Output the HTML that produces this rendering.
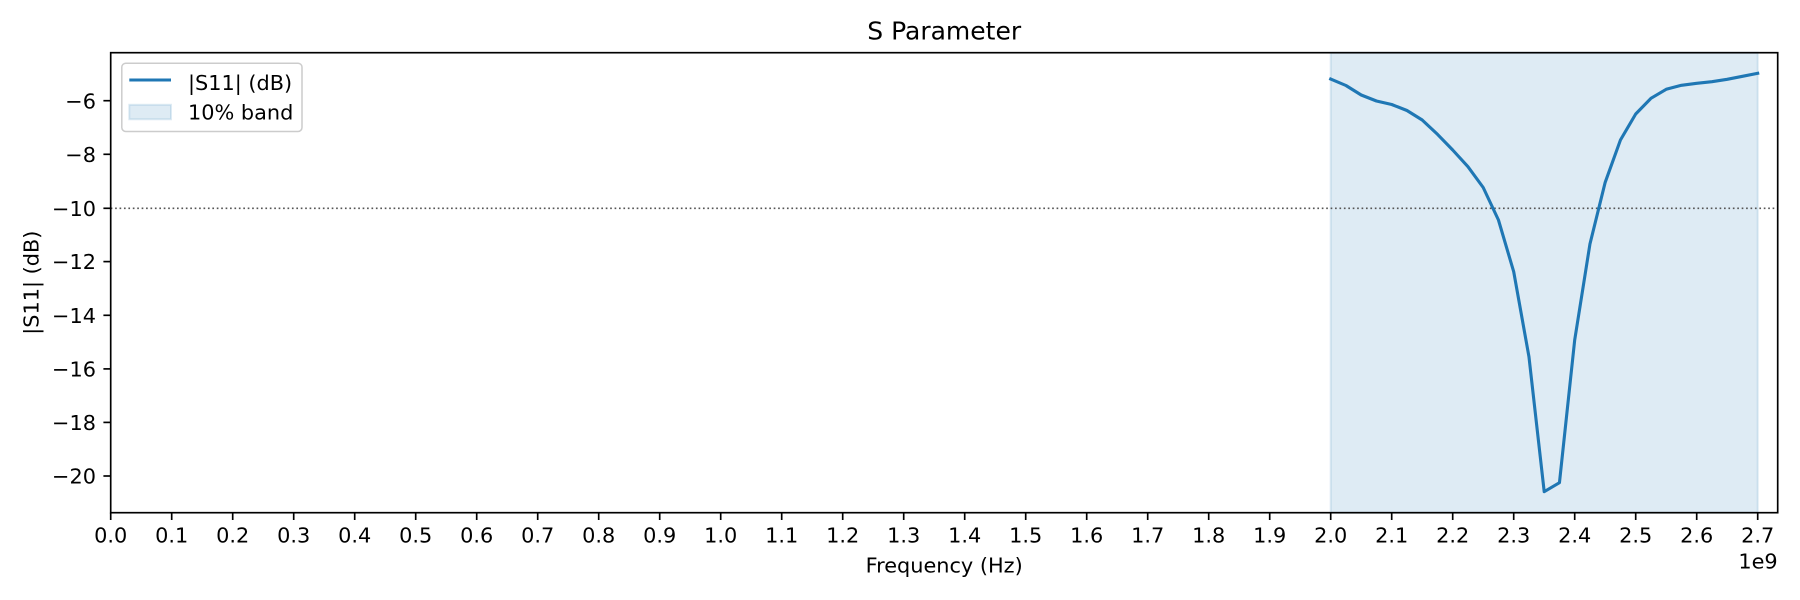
<!DOCTYPE html>
<html>
<head>
<meta charset="utf-8">
<style>
  html, body { margin: 0; padding: 0; background: #ffffff; }
  svg { display: block; }
  text { font-family: "DejaVu Sans", "Liberation Sans", sans-serif; fill: #000; }
</style>
</head>
<body>
<svg width="1800" height="600" viewBox="0 0 1800 600" xmlns="http://www.w3.org/2000/svg">
  <rect x="0" y="0" width="1800" height="600" fill="#ffffff"/>

  <!-- 10% band -->
  <rect x="1330.7" y="52.7" width="427" height="460" fill="#1f77b4" fill-opacity="0.15" stroke="#1f77b4" stroke-opacity="0.15" stroke-width="2"/>

  <!-- -10 dB dotted line -->
  <line x1="110.7" y1="208.3" x2="1777.7" y2="208.3" stroke="#555555" stroke-width="1.67" stroke-dasharray="1.67 2.75"/>

  <!-- S11 curve -->
  <polyline fill="none" stroke="#1f77b4" stroke-width="3.1" stroke-linejoin="round" stroke-linecap="square"
    points="1330.7,79 1345.95,85.5 1361.2,95 1376.45,101 1391.7,104.5 1406.95,110.5 1422.2,120 1437.45,134.3 1452.7,150 1467.95,166.7 1483.2,187.5 1498.45,220 1513.7,271.7 1528.95,356.7 1544.2,491.7 1559.45,482.7 1574.7,340 1589.95,244 1605.2,182.3 1620.45,140 1635.7,114 1650.95,98.3 1666.2,89.3 1681.45,85.3 1696.7,83.3 1711.95,81.7 1727.2,79.3 1742.45,76.3 1757.7,73.3"/>

  <!-- axes frame -->
  <rect x="110.7" y="52.7" width="1667" height="460" fill="none" stroke="#000" stroke-width="1.67"/>

  <!-- x ticks -->
  <g stroke="#000" stroke-width="1.67">
    <line x1="110.7" y1="512.7" x2="110.7" y2="520"/>
    <line x1="171.7" y1="512.7" x2="171.7" y2="520"/>
    <line x1="232.7" y1="512.7" x2="232.7" y2="520"/>
    <line x1="293.7" y1="512.7" x2="293.7" y2="520"/>
    <line x1="354.7" y1="512.7" x2="354.7" y2="520"/>
    <line x1="415.7" y1="512.7" x2="415.7" y2="520"/>
    <line x1="476.7" y1="512.7" x2="476.7" y2="520"/>
    <line x1="537.7" y1="512.7" x2="537.7" y2="520"/>
    <line x1="598.7" y1="512.7" x2="598.7" y2="520"/>
    <line x1="659.7" y1="512.7" x2="659.7" y2="520"/>
    <line x1="720.7" y1="512.7" x2="720.7" y2="520"/>
    <line x1="781.7" y1="512.7" x2="781.7" y2="520"/>
    <line x1="842.7" y1="512.7" x2="842.7" y2="520"/>
    <line x1="903.7" y1="512.7" x2="903.7" y2="520"/>
    <line x1="964.7" y1="512.7" x2="964.7" y2="520"/>
    <line x1="1025.7" y1="512.7" x2="1025.7" y2="520"/>
    <line x1="1086.7" y1="512.7" x2="1086.7" y2="520"/>
    <line x1="1147.7" y1="512.7" x2="1147.7" y2="520"/>
    <line x1="1208.7" y1="512.7" x2="1208.7" y2="520"/>
    <line x1="1269.7" y1="512.7" x2="1269.7" y2="520"/>
    <line x1="1330.7" y1="512.7" x2="1330.7" y2="520"/>
    <line x1="1391.7" y1="512.7" x2="1391.7" y2="520"/>
    <line x1="1452.7" y1="512.7" x2="1452.7" y2="520"/>
    <line x1="1513.7" y1="512.7" x2="1513.7" y2="520"/>
    <line x1="1574.7" y1="512.7" x2="1574.7" y2="520"/>
    <line x1="1635.7" y1="512.7" x2="1635.7" y2="520"/>
    <line x1="1696.7" y1="512.7" x2="1696.7" y2="520"/>
    <line x1="1757.7" y1="512.7" x2="1757.7" y2="520"/>
  </g>
  <g font-size="20.83" text-anchor="middle">
    <text x="110.7" y="542.7">0.0</text>
    <text x="171.7" y="542.7">0.1</text>
    <text x="232.7" y="542.7">0.2</text>
    <text x="293.7" y="542.7">0.3</text>
    <text x="354.7" y="542.7">0.4</text>
    <text x="415.7" y="542.7">0.5</text>
    <text x="476.7" y="542.7">0.6</text>
    <text x="537.7" y="542.7">0.7</text>
    <text x="598.7" y="542.7">0.8</text>
    <text x="659.7" y="542.7">0.9</text>
    <text x="720.7" y="542.7">1.0</text>
    <text x="781.7" y="542.7">1.1</text>
    <text x="842.7" y="542.7">1.2</text>
    <text x="903.7" y="542.7">1.3</text>
    <text x="964.7" y="542.7">1.4</text>
    <text x="1025.7" y="542.7">1.5</text>
    <text x="1086.7" y="542.7">1.6</text>
    <text x="1147.7" y="542.7">1.7</text>
    <text x="1208.7" y="542.7">1.8</text>
    <text x="1269.7" y="542.7">1.9</text>
    <text x="1330.7" y="542.7">2.0</text>
    <text x="1391.7" y="542.7">2.1</text>
    <text x="1452.7" y="542.7">2.2</text>
    <text x="1513.7" y="542.7">2.3</text>
    <text x="1574.7" y="542.7">2.4</text>
    <text x="1635.7" y="542.7">2.5</text>
    <text x="1696.7" y="542.7">2.6</text>
    <text x="1757.7" y="542.7">2.7</text>
  </g>
  <text x="1777.7" y="568.3" font-size="20.83" text-anchor="end">1e9</text>
  <text x="944.2" y="572.3" font-size="20.83" text-anchor="middle">Frequency (Hz)</text>

  <!-- y ticks -->
  <g stroke="#000" stroke-width="1.67">
    <line x1="103.4" y1="100.7" x2="110.7" y2="100.7"/>
    <line x1="103.4" y1="154.3" x2="110.7" y2="154.3"/>
    <line x1="103.4" y1="208.3" x2="110.7" y2="208.3"/>
    <line x1="103.4" y1="261.6" x2="110.7" y2="261.6"/>
    <line x1="103.4" y1="315.3" x2="110.7" y2="315.3"/>
    <line x1="103.4" y1="368.9" x2="110.7" y2="368.9"/>
    <line x1="103.4" y1="422.4" x2="110.7" y2="422.4"/>
    <line x1="103.4" y1="476" x2="110.7" y2="476"/>
  </g>
  <g font-size="20.83" text-anchor="end">
    <text x="96" y="108.3">−6</text>
    <text x="96" y="161.9">−8</text>
    <text x="96" y="215.9">−10</text>
    <text x="96" y="269.2">−12</text>
    <text x="96" y="322.9">−14</text>
    <text x="96" y="376.5">−16</text>
    <text x="96" y="430">−18</text>
    <text x="96" y="483.6">−20</text>
  </g>
  <text transform="translate(38.5,282.7) rotate(-90)" font-size="20.83" text-anchor="middle">|S11| (dB)</text>

  <!-- title -->
  <text x="944.2" y="39.3" font-size="25" text-anchor="middle">S Parameter</text>

  <!-- legend -->
  <rect x="121.8" y="63.2" width="180.2" height="68.3" rx="4" ry="4" fill="#ffffff" fill-opacity="0.8" stroke="#cccccc" stroke-width="1.5"/>
  <line x1="129.3" y1="80" x2="171" y2="80" stroke="#1f77b4" stroke-width="3.1"/>
  <rect x="129.3" y="104.8" width="41.7" height="14.5" fill="#1f77b4" fill-opacity="0.15" stroke="#1f77b4" stroke-opacity="0.15" stroke-width="2"/>
  <text x="188" y="90.2" font-size="20.83">|S11| (dB)</text>
  <text x="188" y="119.4" font-size="20.83">10% band</text>
</svg>
</body>
</html>
